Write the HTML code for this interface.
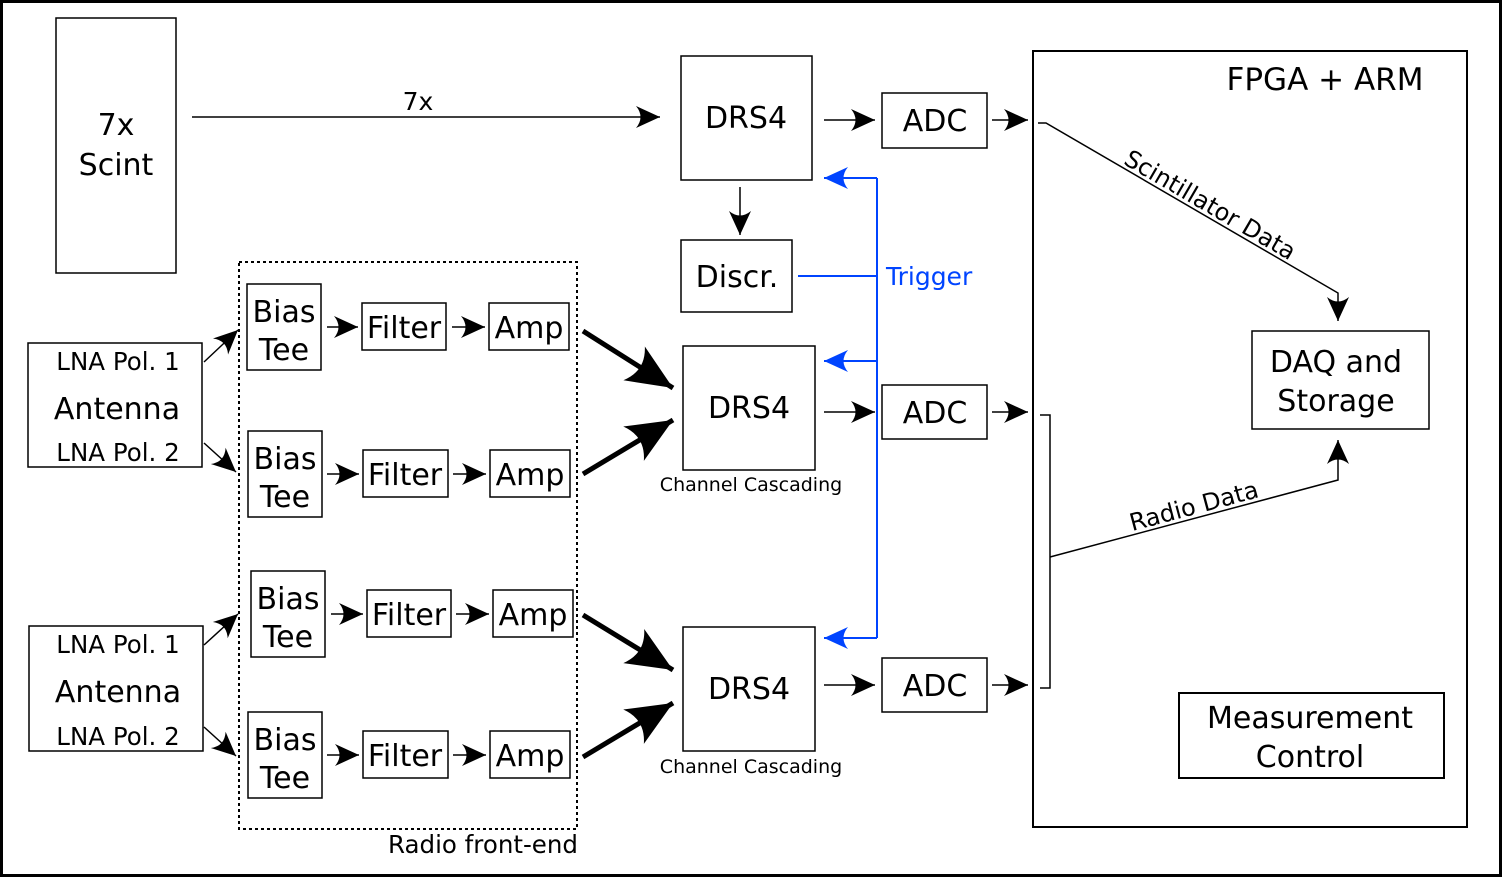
<!DOCTYPE html>
<html><head><meta charset="utf-8"><style>
html,body{margin:0;padding:0;background:#fff}
svg{display:block}
text{font-family:"DejaVu Sans","Liberation Sans",sans-serif;fill:#000}
</style></head><body>
<svg width="1502" height="877" viewBox="0 0 1502 877" xmlns="http://www.w3.org/2000/svg">
<defs>
<marker id="a" markerUnits="userSpaceOnUse" markerWidth="40" markerHeight="40" viewBox="-30 -20 40 40" refX="0" refY="0" orient="auto"><path d="M0,0 L-24,-11 Q-15,0 -24,11 Z" fill="#000"/></marker>
<marker id="b" markerUnits="userSpaceOnUse" markerWidth="40" markerHeight="40" viewBox="-30 -20 40 40" refX="0" refY="0" orient="auto"><path d="M0,0 L-24,-11 Q-15,0 -24,11 Z" fill="#0044ff"/></marker>
<marker id="t" markerUnits="userSpaceOnUse" markerWidth="70" markerHeight="70" viewBox="-60 -35 70 70" refX="0" refY="0" orient="auto"><path d="M0,0 L-46,-20 Q-32,0 -46,20 Z" fill="#000"/></marker>
</defs>
<rect x="1.5" y="1.5" width="1499" height="874" fill="#fff" stroke="#000" stroke-width="3"/>
<g fill="none" stroke="#000" stroke-width="1.5">
<rect x="56" y="18" width="120" height="255"/>
<rect x="681" y="56" width="131" height="124"/>
<rect x="882" y="93" width="105" height="55"/>
<rect x="1033" y="51" width="434" height="776" stroke-width="2"/>
<rect x="681" y="240" width="111" height="72"/>
<rect x="683" y="346" width="132" height="124"/>
<rect x="882" y="385" width="105" height="54"/>
<rect x="683" y="627" width="132" height="124"/>
<rect x="882" y="658" width="105" height="54"/>
<rect x="1252" y="331" width="177" height="98"/>
<rect x="1179" y="693" width="265" height="85" stroke-width="2"/>
<rect x="239" y="262" width="338" height="567" stroke-dasharray="3,3" stroke-width="2"/>
<rect x="28" y="343" width="174" height="124"/>
<rect x="29" y="626" width="174" height="125"/>
<rect x="247" y="284" width="74" height="86"/>
<rect x="248" y="431" width="74" height="86"/>
<rect x="251" y="571" width="74" height="86"/>
<rect x="248" y="712" width="74" height="86"/>
<rect x="362" y="303" width="84" height="47"/>
<rect x="363" y="450" width="85" height="47"/>
<rect x="367" y="590" width="84" height="47"/>
<rect x="363" y="731" width="85" height="47"/>
<rect x="489" y="303" width="80" height="47"/>
<rect x="490" y="450" width="80" height="47"/>
<rect x="493" y="590" width="80" height="47"/>
<rect x="490" y="731" width="80" height="47"/>
</g>
<g fill="none" stroke="#000" stroke-width="1.5" marker-end="url(#a)">
<line x1="192" y1="117" x2="660" y2="117"/>
<line x1="824" y1="120" x2="875" y2="120"/>
<line x1="992" y1="120" x2="1028" y2="120"/>
<line x1="740" y1="187" x2="740" y2="235"/>
<line x1="824" y1="412" x2="875" y2="412"/>
<line x1="992" y1="412" x2="1028" y2="412"/>
<line x1="824" y1="685" x2="875" y2="685"/>
<line x1="992" y1="685" x2="1028" y2="685"/>
<polyline points="1038,123 1046,123 1338,293 1338,321"/>
<polyline points="1050,557 1338,480 1338,440"/>
<line x1="327" y1="327" x2="358" y2="327"/>
<line x1="452" y1="327" x2="485" y2="327"/>
<line x1="327" y1="474" x2="359" y2="474"/>
<line x1="453" y1="474" x2="486" y2="474"/>
<line x1="331" y1="614" x2="363" y2="614"/>
<line x1="456" y1="614" x2="489" y2="614"/>
<line x1="327" y1="755" x2="359" y2="755"/>
<line x1="453" y1="755" x2="486" y2="755"/>
<line x1="204" y1="362" x2="238" y2="330"/>
<line x1="204" y1="443" x2="236" y2="472"/>
<line x1="204" y1="645" x2="238" y2="614"/>
<line x1="204" y1="727" x2="236" y2="756"/>
</g>
<polyline points="1040,415 1050,415 1050,688 1040,688" fill="none" stroke="#000" stroke-width="1.5"/>
<g stroke="#000" stroke-width="5" marker-end="url(#t)">
<line x1="583" y1="331" x2="673" y2="388"/>
<line x1="583" y1="474" x2="673" y2="420"/>
<line x1="583" y1="615" x2="673" y2="670"/>
<line x1="583" y1="757" x2="673" y2="703"/>
</g>
<g fill="none" stroke="#0044ff" stroke-width="2">
<line x1="798" y1="276" x2="877" y2="276"/>
<polyline points="877,178 877,638"/>
</g>
<g fill="none" stroke="#0044ff" stroke-width="2" marker-end="url(#b)">
<line x1="877" y1="178" x2="824" y2="178"/>
<line x1="877" y1="361" x2="824" y2="361"/>
<line x1="877" y1="638" x2="824" y2="638"/>
</g>
<g text-anchor="middle" font-size="30">
<text x="116" y="135">7x</text>
<text x="116" y="175">Scint</text>
<text x="746" y="128">DRS4</text>
<text x="935" y="131">ADC</text>
<text x="737" y="287">Discr.</text>
<text x="749" y="418">DRS4</text>
<text x="935" y="423">ADC</text>
<text x="749" y="699">DRS4</text>
<text x="935" y="696">ADC</text>
<text x="1325" y="90" font-size="31">FPGA + ARM</text>
<text x="1336" y="372">DAQ and</text>
<text x="1336" y="411">Storage</text>
<text x="1310" y="728">Measurement</text>
<text x="1310" y="767">Control</text>
<text x="117" y="419">Antenna</text>
<text x="118" y="702">Antenna</text>
<text x="284" y="322">Bias</text><text x="284" y="360">Tee</text>
<text x="285" y="469">Bias</text><text x="285" y="507">Tee</text>
<text x="288" y="609">Bias</text><text x="288" y="647">Tee</text>
<text x="285" y="750">Bias</text><text x="285" y="788">Tee</text>
<text x="404" y="338">Filter</text>
<text x="405" y="485">Filter</text>
<text x="409" y="625">Filter</text>
<text x="405" y="766">Filter</text>
<text x="529" y="338">Amp</text>
<text x="530" y="485">Amp</text>
<text x="533" y="625">Amp</text>
<text x="530" y="766">Amp</text>
</g>
<g text-anchor="middle" font-size="24.5">
<text x="118" y="370">LNA Pol. 1</text>
<text x="118" y="461">LNA Pol. 2</text>
<text x="118" y="653">LNA Pol. 1</text>
<text x="118" y="745">LNA Pol. 2</text>
<text x="483" y="853">Radio front-end</text>
<text x="418" y="110" font-size="25">7x</text>
</g>
<g text-anchor="middle" font-size="19">
<text x="751" y="491">Channel Cascading</text>
<text x="751" y="773">Channel Cascading</text>
</g>
<text x="886" y="285" font-size="25" style="fill:#0044ff">Trigger</text>
<text x="0" y="0" font-size="24" text-anchor="middle" transform="translate(1206,212) rotate(30.2)">Scintillator Data</text>
<text x="0" y="0" font-size="24" text-anchor="middle" transform="translate(1196,514) rotate(-15)">Radio Data</text>
</svg>
</body></html>
